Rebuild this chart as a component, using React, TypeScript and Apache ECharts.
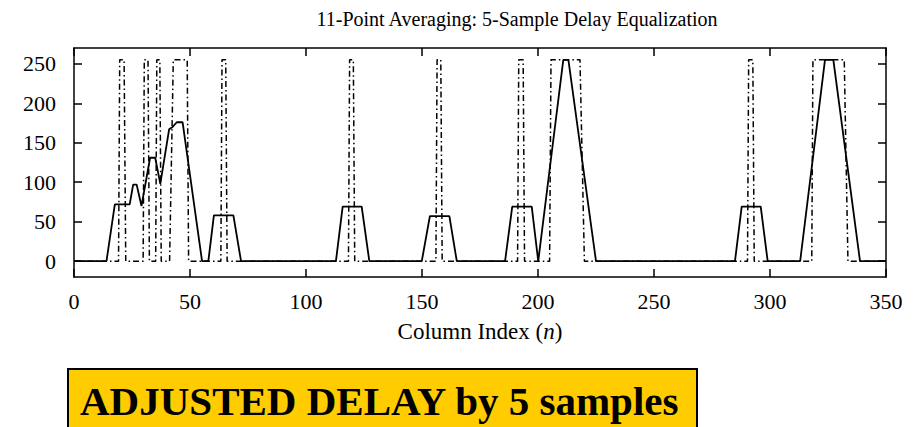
import React, { useEffect, useRef } from "react";
import * as echarts from "echarts";

const chartTitle = "11-Point Averaging: 5-Sample Delay Equalization";
const bannerText = "ADJUSTED DELAY by 5 samples";
const xTicks = [0, 50, 100, 150, 200, 250, 300, 350];
const yTicks = [0, 50, 100, 150, 200, 250];

// Original binary row (dash-dot), vertices
const originalPoints: [number, number][] = [
  [0, 0], [19.2, 0], [19.7, 255], [21.6, 255], [22.3, 0],
  [29.8, 0], [30.3, 255], [31.9, 255], [32.5, 0],
  [35.2, 0], [35.7, 255], [37.0, 255], [37.6, 0],
  [41.2, 0], [42.8, 255], [48.8, 255], [49.4, 0],
  [63.3, 0], [63.8, 255], [65.4, 255], [66.0, 0],
  [118.3, 0], [118.8, 255], [120.4, 255], [121.0, 0],
  [156.0, 0], [156.5, 255], [158.1, 255], [158.7, 0],
  [191.2, 0], [191.7, 255], [193.6, 255], [194.2, 0],
  [205.0, 0], [205.6, 255], [218.1, 255], [220.0, 0],
  [290.3, 0], [290.8, 255], [292.6, 255], [293.2, 0],
  [318.0, 0], [318.5, 255], [332.0, 255], [333.6, 0],
  [350, 0],
];

// 11-point moving average, delay adjusted (solid), vertices
const averagedPoints: [number, number][] = [
  [0, 0], [14.0, 0], [17.6, 72], [24.0, 72], [25.5, 97], [27.0, 97],
  [29.1, 70], [32.8, 131], [35.0, 131], [37.2, 98], [41.0, 167], [42.5, 170],
  [44.3, 176], [46.8, 176], [55.2, 0], [57.9, 0], [60.3, 58], [68.7, 58],
  [72.0, 0], [112.9, 0], [115.8, 69], [124.0, 69], [127.3, 0],
  [149.9, 0], [153.4, 57], [161.8, 57], [165.0, 0],
  [185.8, 0], [188.9, 69], [197.3, 69], [200.1, 0],
  [210.9, 255], [213.1, 255], [225.0, 0],
  [284.9, 0], [287.8, 69], [296.0, 69], [299.0, 0],
  [313.0, 0], [323.7, 255], [327.3, 255], [338.8, 0], [350, 0],
];

export default function App() {
  const ref = useRef<HTMLDivElement>(null);
  useEffect(() => {
    if (!ref.current) return;
    const chart = echarts.init(ref.current, undefined, { renderer: "svg" });
    const serif = "'Liberation Serif', 'DejaVu Serif', serif";
    const axisLine = { show: true, onZero: false, lineStyle: { color: "#000", width: 1.5 } };
    const tickStyle = { show: true, inside: true, length: 8, lineStyle: { color: "#000", width: 1.5 } };
    chart.setOption({
      animation: false,
      backgroundColor: "#fff",
      title: {
        text: chartTitle,
        left: 512,
        top: 4,
        textAlign: "center",
        textStyle: { fontFamily: serif, fontWeight: "normal", fontSize: 20, color: "#000" },
      },
      grid: { left: 74, top: 48, right: 38, bottom: 150, show: false },
      xAxis: [
        {
          type: "value", min: 0, max: 350, interval: 50, position: "bottom",
          axisLine, axisTick: tickStyle, splitLine: { show: false },
          axisLabel: { color: "#000", fontFamily: serif, fontSize: 22, margin: 13 },
          name: "{a|Column Index (}{i|n}{a|)}",
          nameLocation: "middle", nameGap: 43,
          nameTextStyle: {
            rich: {
              a: { fontFamily: serif, fontSize: 23, color: "#000" },
              i: { fontFamily: serif, fontSize: 23, color: "#000", fontStyle: "italic" },
            },
          },
        },
        {
          type: "value", min: 0, max: 350, interval: 50, position: "top",
          axisLine, axisTick: tickStyle, axisLabel: { show: false }, splitLine: { show: false },
        },
      ],
      yAxis: [
        {
          type: "value", min: -20, max: 270, position: "left",
          axisLine, splitLine: { show: false },
          axisTick: { ...tickStyle, customValues: yTicks },
          axisLabel: { color: "#000", fontFamily: serif, fontSize: 22, margin: 18, customValues: yTicks },
        },
        {
          type: "value", min: -20, max: 270, position: "right",
          axisLine, splitLine: { show: false },
          axisTick: { ...tickStyle, customValues: yTicks },
          axisLabel: { show: false, customValues: yTicks },
        },
      ],
      series: [
        {
          type: "line", name: "original", data: originalPoints, showSymbol: false, symbol: "none",
          lineStyle: { color: "#000", width: 1.5, type: [6, 3, 1.5, 3] },
          z: 2,
        },
        {
          type: "line", name: "averaged", data: averagedPoints, showSymbol: false, symbol: "none",
          lineStyle: { color: "#000", width: 1.8, type: "solid" },
          z: 3,
        },
      ],
      graphic: [
        {
          type: "rect",
          shape: { x: 68, y: 369, width: 629, height: 70 },
          style: { fill: "#FFCC00", stroke: "#000", lineWidth: 2 },
        },
        {
          type: "text",
          x: 80, y: 401,
          style: {
            text: bannerText,
            fontFamily: serif, fontWeight: "bold", fontSize: 41, fill: "#000",
            textVerticalAlign: "middle",
          },
        },
      ],
    });
    return () => chart.dispose();
  }, []);
  return (
    <div
      ref={ref}
      style={{ position: "fixed", left: 0, top: 0, width: 924, height: 427, background: "#fff" }}
    />
  );
}
